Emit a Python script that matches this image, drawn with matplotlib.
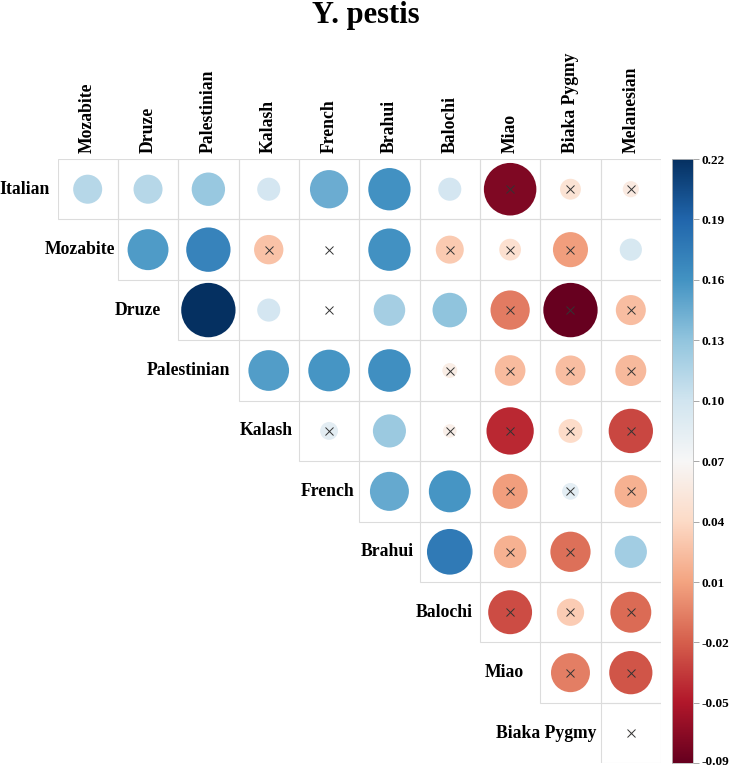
import numpy as np
import matplotlib.pyplot as plt
import matplotlib.transforms as mtransforms
from matplotlib.patches import Circle, Rectangle
from matplotlib.colors import Normalize

plt.rcParams['font.family'] = ['Liberation Serif', 'DejaVu Serif']

####################################################################
# data : upper triangle of the population matrix, row by row
ROW_NAMES = ['Italian', 'Mozabite', 'Druze', 'Palestinian', 'Kalash',
             'French', 'Brahui', 'Balochi', 'Miao', 'Biaka Pygmy']
COL_NAMES = ['Mozabite', 'Druze', 'Palestinian', 'Kalash', 'French',
             'Brahui', 'Balochi', 'Miao', 'Biaka Pygmy', 'Melanesian']

italian     = [0.111, 0.111, 0.125, 0.095, 0.143, 0.160, 0.095, -0.075, 0.045, 0.054]
mozabite    = [0.154, 0.169, 0.023, 0.067, 0.160, 0.027, 0.043, 0.004, 0.093]
druze       = [0.220, 0.095, 0.067, 0.119, 0.129, -0.012, -0.085, 0.021]
palestinian = [0.153, 0.157, 0.161, 0.056, 0.019, 0.021, 0.018]
kalash      = [0.084, 0.124, 0.058, -0.048, 0.038, -0.034]
french      = [0.146, 0.158, 0.004, 0.082, 0.013]
brahui      = [0.175, 0.013, -0.016, 0.121]
balochi     = [-0.032, 0.029, -0.019]
miao        = [-0.011, -0.029]
biaka       = [0.066]
VALUES = [italian, mozabite, druze, palestinian, kalash,
          french, brahui, balochi, miao, biaka]

# 1 = not significant (cross drawn over the cell)
ns_italian     = [0, 0, 0, 0, 0, 0, 0, 1, 1, 1]
ns_mozabite    = [0, 0, 1, 1, 0, 1, 1, 1, 0]
ns_druze       = [0, 0, 1, 0, 0, 1, 1, 1]
ns_palestinian = [0, 0, 0, 1, 1, 1, 1]
ns_kalash      = [1, 0, 1, 1, 1, 1]
ns_french      = [0, 0, 1, 1, 1]
ns_brahui      = [0, 1, 1, 0]
ns_balochi     = [1, 1, 1]
ns_miao        = [1, 1]
ns_biaka       = [1]
NOT_SIG = [ns_italian, ns_mozabite, ns_druze, ns_palestinian, ns_kalash,
           ns_french, ns_brahui, ns_balochi, ns_miao, ns_biaka]

VMIN, VMAX = -0.085, 0.22
CBAR_LABELS = ['-0.09', '-0.05', '-0.02', '0.01', '0.04', '0.07',
               '0.10', '0.13', '0.16', '0.19', '0.22']

####################################################################
W, H = 730, 767
GRID_L, GRID_R, GRID_T, GRID_B = 57.5, 661.0, 159.0, 763.3
CELL = (GRID_R - GRID_L) / 10.
# gap (px) between row label and its first cell
ROW_LABEL_GAP = [7.5, 3, 17, 8, 6, 5, 6, 7, 16, 4]
FS_LAB = 12.7

fig = plt.figure(figsize=(W/100, H/100), dpi=100)
ax = fig.add_axes([GRID_L/W, 1-GRID_B/H, (GRID_R-GRID_L)/W, (GRID_B-GRID_T)/H])
ax.set_xlim(0, 10)
ax.set_ylim(10, 0)
ax.axis('off')

cmap = plt.get_cmap('RdBu')
norm = Normalize(VMIN, VMAX)
mid = (VMIN + VMAX)/2.
half = (VMAX - VMIN)/2.

for i, row in enumerate(VALUES):
    for k, v in enumerate(row):
        j = i + k
        ax.add_patch(Rectangle((j, i), 1, 1, fill=False, ec='#dcdcdc', lw=0.8, zorder=1))
        r = 0.9*np.sqrt(abs((v - mid)/half))/2.
        ax.add_patch(Circle((j+0.5, i+0.5), r, fc=cmap(norm(v)), ec='none', zorder=2))
        if NOT_SIG[i][k]:
            ax.plot(j+0.5, i+0.5, marker='x', ms=5.5, mew=0.7, color='#333333', zorder=3)

for j, name in enumerate(COL_NAMES):
    ax.text(j+0.5, -0.1, name, rotation=90, ha='center', va='bottom',
            fontsize=FS_LAB, fontweight='bold', clip_on=False)
for i, name in enumerate(ROW_NAMES):
    ax.text(i - ROW_LABEL_GAP[i]/CELL, i+0.5, name, ha='right', va='center',
            fontsize=FS_LAB, fontweight='bold', clip_on=False)

fig.text(366/W, 1-15/H, 'Y. pestis', ha='center', va='center',
         fontsize=22, fontweight='bold')

# colour bar
cax = fig.add_axes([672/W, 1-GRID_B/H, 21/W, (GRID_B-GRID_T)/H])
grad = np.linspace(VMIN, VMAX, 256).reshape(-1, 1)
cax.imshow(grad, aspect='auto', cmap=cmap, norm=norm, origin='lower',
           extent=[0, 1, VMIN, VMAX])
cax.set_xticks([])
cax.yaxis.tick_right()
cax.set_yticks(np.linspace(VMIN, VMAX, len(CBAR_LABELS)))
cax.set_yticklabels(CBAR_LABELS, fontsize=9.5, fontweight='bold')
cax.tick_params(axis='y', length=4, width=0.6, color='#999999', pad=2)
# keep the lowest label inside the picture
lab0 = cax.get_yticklabels()[0]
lab0.set_transform(lab0.get_transform() +
                   mtransforms.ScaledTranslation(0, 3/100, fig.dpi_scale_trans))
for s in cax.spines.values():
    s.set_color('#bbbbbb')
    s.set_linewidth(0.6)

plt.savefig('out.png', dpi=100)
